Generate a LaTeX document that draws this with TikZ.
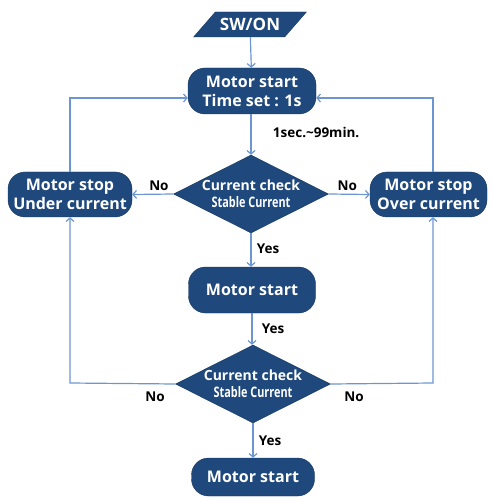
\documentclass[tikz,border=0pt]{standalone}
\usepackage{fontspec}
\setmainfont{Open Sans}
\newfontfamily\narrowfont[FakeStretch=0.75]{Open Sans}
\usetikzlibrary{arrows.meta, positioning, shapes.geometric}
\definecolor{FlowBlue}{RGB}{31, 73, 125}
\definecolor{EdgeBlue}{RGB}{22, 52, 92}
\definecolor{LineBlue}{RGB}{108, 150, 208}
\newcommand{\zw}[1]{\makebox[0pt]{#1}}

\begin{document}
\begin{tikzpicture}[
            x=1pt, y=-1pt,
            block/.style={rectangle, rounded corners=17pt, draw=EdgeBlue, fill=FlowBlue,
                          text=white, align=center, font=\bfseries\fontsize{16}{19}\selectfont,
                          inner sep=1pt},
            check/.style={diamond, draw=EdgeBlue, fill=FlowBlue, text=white, align=center,
                          minimum width=155pt, minimum height=78pt, inner sep=0pt,
                          font=\bfseries\fontsize{14}{17}\selectfont},
            startio/.style={trapezium, trapezium left angle=49, trapezium right angle=131,
                            draw=EdgeBlue, fill=FlowBlue, text=white, minimum height=25pt,
                            font=\bfseries\fontsize{17}{19}\selectfont, inner xsep=-10pt, inner ysep=1pt},
            arrow/.style={-{Straight Barb[length=3.5pt, width=8pt]}, line width=1.2pt, LineBlue},
            lbl/.style={font=\bfseries\fontsize{13.5}{15}\selectfont, text=black}
        ]
            \useasboundingbox (0,0) rectangle (493,502);

            \node[startio] (swon) at (250,24.5) {SW/ON};
            \node[block, minimum width=128pt, minimum height=46pt] (start) at (252,91)
                {Motor start\\Time set : 1s};
            \node[check] (check1) at (251,194)
                {\zw{Current check}\\\zw{\narrowfont\fontsize{14.5}{17}\selectfont Stable Current}};
            \node[block, minimum width=124pt, minimum height=45pt] (under) at (70,194.5)
                {Motor stop\\Under current};
            \node[block, minimum width=117pt, minimum height=45pt] (over) at (428.5,194.5)
                {Motor stop\\Over current};
            \node[block, minimum width=127pt, minimum height=46pt] (run1) at (252,290) {Motor start};
            \node[check] (check2) at (253,384)
                {\zw{Current check}\\\zw{\narrowfont\fontsize{14.5}{17}\selectfont Stable Current}};
            \node[block, minimum width=123pt, minimum height=38pt] (run2) at (253,477) {Motor start};

            % corners of the feedback lines
            \coordinate (ul) at (70,98);
            \coordinate (ur) at (433,98);
            \coordinate (ll) at (70,383);
            \coordinate (lr) at (433,383);

            \draw[arrow] (swon) -- (start);
            \draw[arrow] (start.south -| check1.north) -- node[lbl, right=18pt, pos=0.45] {1sec.\textasciitilde99min.} (check1.north);
            \draw[arrow] (check1.west) -- node[lbl, above=0pt, pos=0.35] {No} (under.east);
            \draw[arrow] (check1.east) -- node[lbl, above=0pt, pos=0.45] {No} (over.east -| over.west);
            \draw[arrow] (check1.south) -- node[lbl, right=2pt, pos=0.45] {Yes} (run1.north -| check1.south);
            \draw[arrow] (run1.south) -- node[lbl, right=6pt] {Yes} (check2.north -| run1.south);
            \draw[arrow] (check2.south) -- node[lbl, right=2pt] {Yes} (run2.north -| check2.south);

            \draw[arrow] (under.north -| ul) -- (ul) -- (ul -| start.west);
            \draw[arrow] (over.north -| ur) -- (ur) -- (ur -| start.east);
            \draw[arrow] (check2.west) -- (ll) -- (under.south -| ll);
            \draw[arrow] (check2.east) -- (lr) -- (over.south -| lr);
            \node[lbl] (nol) at (155,397) {No};
            \node[lbl] (nor) at (354,397) {No};
        \end{tikzpicture}
\end{document}
